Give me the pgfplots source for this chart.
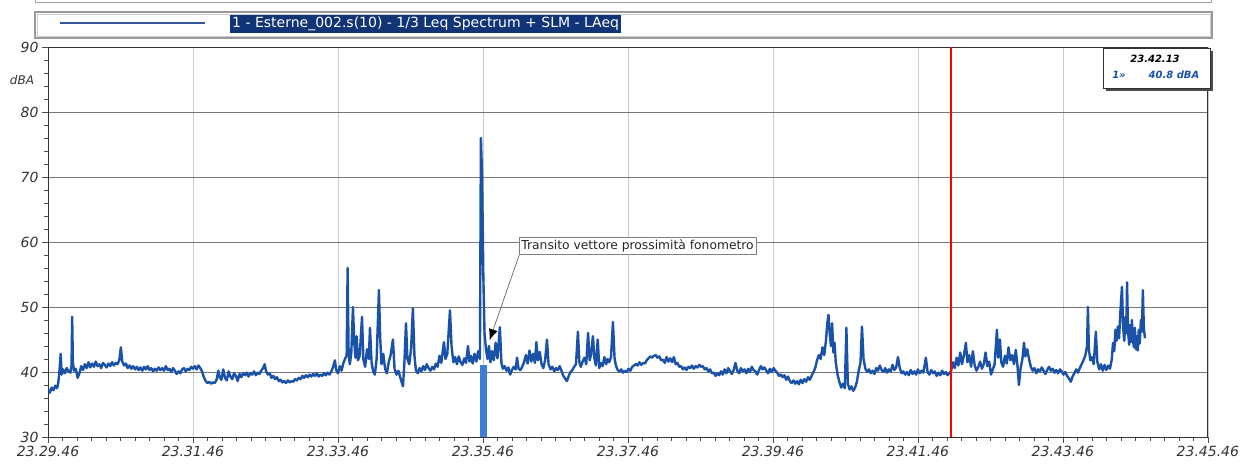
\documentclass[border=0pt]{standalone}
\usepackage{fontspec}
\setmainfont{DejaVu Sans}
\usepackage{pgfplots}
\pgfplotsset{compat=1.18}
\usetikzlibrary{arrows.meta}
\definecolor{trace}{RGB}{26,82,168}
\definecolor{barblue}{RGB}{65,125,215}
\definecolor{legbg}{RGB}{16,52,118}
\definecolor{legline}{RGB}{50,85,155}
\definecolor{gridh}{RGB}{120,120,120}
\definecolor{gridv}{RGB}{200,200,200}
\begin{document}
\begin{tikzpicture}[x=1pt,y=1pt]
\useasboundingbox (0,0) rectangle (1244,470);
% top cut box and legend box
\draw[gray!70, line width=1pt] (35,470)--(35,467)--(1211,467)--(1211,470);
\draw[gray!80, line width=1.4pt] (35,432) rectangle (1212,458);
\draw[gray!40, line width=0.6pt] (37,434) rectangle (1210,456);
\draw[legline, line width=1.5pt] (60,447)--(205,447);
\node[fill=legbg, text=white, inner sep=2pt, anchor=west, font=\fontsize{14}{14}\selectfont] at (230,446) {1 - Esterne\_002.s(10) - 1/3 Leq Spectrum + SLM - LAeq};
\begin{axis}[
  at={(48pt,33pt)}, anchor=south west,
  scale only axis, width=1160pt, height=390pt,
  xmin=0, xmax=960, ymin=30, ymax=90,
  xtick={0,120,240,360,480,600,720,840,960},
  xticklabels={23.29.46,23.31.46,23.33.46,23.35.46,23.37.46,23.39.46,23.41.46,23.43.46,23.45.46},
  ytick={30,40,50,60,70,80,90},
  minor x tick num=9, minor y tick num=4,
  tick align=outside, tick pos=left,
  major tick length=6pt, minor tick length=4pt,
  xmajorgrids, ymajorgrids,
  x grid style={gridv, line width=0.6pt},
  y grid style={gridh, line width=0.8pt},
  axis line style={black!80, line width=0.8pt},
  every tick/.style={black!70, line width=0.6pt},
  /pgf/number format/assume math mode=true,
  ticklabel style={font=\fontsize{14}{14}\selectfont\itshape, text=black!80},
  clip=true,
]
\addplot[fill=barblue, draw=none] coordinates {(357.5,41) (363.3,41)} \closedcycle;
\addplot[trace, line width=2.4pt, line join=round] coordinates {
(0,37.3) (1.5,36.8) (3,37.6) (4.5,37.2) (6,37.9) (7.5,37.5) (8.5,38.3) (9.5,40.2) (10.5,42.8) (11.3,39.6)
(12.5,40.4) (14,39.8) (15.5,40.6) (17,40.1) (18.5,39.9) (19.5,41) (20,48.5) (20.6,41.5) (21.5,40.2) (23,40.5)
(24.5,39.1) (26,39.8) (27.5,40.9) (29,40.3) (30.5,41.2) (32,40.6) (33.5,41.5) (35,40.7) (36.5,41.3) (38,40.8)
(39.5,41.6) (41,40.9) (42.5,41.2) (44,40.6) (45.5,41.4) (47,41.1) (48.5,40.7) (50,41.3) (51.5,40.9) (53,41.5)
(54.5,41) (56,41.4) (57.5,41.2) (59,41.8) (60.3,43.8) (61.5,41.6) (63,41) (64.5,41.3) (66,40.6) (67.5,41)
(69,40.5) (70.5,40.9) (72,40.4) (73.5,40.8) (75,40.3) (76.5,40.7) (78,40.2) (79.5,40.8) (81,40.4) (82.5,40.9)
(84,40.3) (85.5,40.6) (87,40.1) (88.5,40.5) (90,40.2) (91.5,40.7) (93,40.3) (94.5,40.6) (96,40.2) (97.5,40.9)
(99,40.3) (100.5,40.5) (102,40) (103.5,40.6) (105,40.2) (106.5,39.7) (108,40.1) (109.5,39.8) (111,40.4) (112.5,40.6)
(114,40.1) (115.5,40.5) (117,40.3) (118.5,40.8) (120,40.5) (121.5,40.9) (123,40.4) (124.5,41) (126,40.6) (127.5,40.1)
(129,39.2) (130.5,38.6) (132,38.3) (133.5,38.5) (135,38.2) (136.5,38.4) (138,38.3) (139.5,38.8) (141,40.2) (142,39.2)
(143.5,38.8) (145,40.4) (146.5,39.1) (148,38.7) (149.5,40.1) (151,39.3) (152.5,38.9) (154,39.8) (155.5,39.4) (157,38.6)
(158.5,39.7) (160,39.2) (161.5,39.8) (163,39.5) (164.5,39.9) (166,39.3) (167.5,39.8) (169,39.6) (170.5,40.1) (172,39.5)
(173.5,39.9) (175,39.7) (176.5,40.2) (178,40.6) (179.3,41.2) (180.5,40.1) (182,39.6) (183.5,39.8) (185,39.1) (186.5,39.4)
(188,38.9) (189.5,39.2) (191,38.6) (192.5,38.8) (194,38.4) (195.5,38.6) (197,38.3) (198.5,38.7) (200,38.4) (201.5,38.6)
(203,38.5) (204.5,38.9) (206,38.7) (207.5,39.1) (209,38.9) (210.5,39.4) (212,39.1) (213.5,39.5) (215,39.2) (216.5,39.6)
(218,39.3) (219.5,39.7) (221,39.4) (222.5,39.8) (224,39.3) (225.5,39.6) (227,39.4) (228.5,39.8) (230,39.5) (231.5,39.9)
(233,39.6) (234.5,40.1) (236,40.8) (237.5,41.8) (238.5,40.3) (240,39.8) (241.5,40.9) (243,40.2) (244.5,41.4) (246,42.1)
(247.2,42.5) (248,56) (248.8,43) (249.8,41.2) (251,42.8) (252.4,50) (253.5,44.5) (254.5,42.2) (255.5,45.5) (256.5,41.8)
(258,42.5) (259.9,48.5) (261,42) (262.5,40.8) (264,43.5) (265.5,42) (266.5,46.8) (267.8,41.5) (269,40.2) (270.5,39.6)
(272,42) (273.9,52.6) (275,45) (276,41.2) (277.5,42.8) (279,40.5) (280.5,39.8) (282,41.5) (283.5,42.5) (285.5,45)
(286.8,40.5) (288.5,39.6) (290,40.2) (291.5,39.2) (293.8,37.8) (295,41.5) (296.3,47.5) (297.5,42) (299,41.2) (300.5,43.5)
(302,49.8) (303.3,42.5) (304.5,40.3) (306,39.8) (307.5,40.6) (309,40.1) (310.5,40.9) (312,40.3) (313.5,41.2) (315,40.6)
(316.5,40.2) (318,40.8) (319.5,40.4) (321,41.3) (322.5,40.8) (324,42.5) (325.5,41.4) (327.7,44.6) (329,42) (330.5,42.8)
(332.7,49.5) (334,44) (335.5,41.5) (337,42.3) (338.5,41.2) (340,42.4) (341.5,41.5) (343,41.1) (344.5,42.1) (346,41.4)
(347.6,44) (348.8,41.6) (350,42.5) (351.5,41.3) (353,42.8) (354.5,41.6) (356,43.2) (357.5,42) (358.3,76) (359.3,70)
(360.3,55) (361.3,46) (362.5,43.5) (363.8,42) (365,44) (366.2,41.5) (367.5,43.2) (369,41.8) (370.5,44.5) (372,42.1)
(374,46.9) (375.3,41.4) (376.5,40.5) (378,40.9) (379.5,40.2) (381,40.7) (382.5,39.6) (384,40.3) (385.5,40.8) (387,40.4)
(388.2,42.2) (389.5,40.5) (391,40.3) (392.5,40.8) (394,41.5) (395.5,42.6) (397,41.3) (398.5,43.3) (400,41.6) (401.5,42.8)
(403,41.4) (404.2,44.6) (405.5,41.8) (407,43.1) (408.5,41.2) (410,40.6) (411.5,41.9) (413,45) (414.3,41.2) (416,40.4)
(417.5,40.8) (419,40.1) (420.5,40.6) (422,40.3) (423.5,40.9) (425,40.2) (426.5,39.4) (428,39) (429.5,38.6) (431,39.4)
(432.5,40) (434,40.3) (435.5,40.8) (437,41.2) (438.6,46.2) (439.8,41.5) (441,40.8) (442.5,41.6) (444,42.2) (445.5,41.2)
(447,46) (448.3,41.8) (449.5,42.7) (451,45.5) (452.3,42) (453.5,41) (455,45) (456.3,40.6) (457.5,41.4) (459,40.9)
(460.5,42.3) (462,41.2) (463.2,42) (464.5,41.5) (466,42.3) (467.6,47.7) (468.9,42.2) (470,41) (471.5,40.3) (473,40.1)
(474.5,40.4) (476,39.9) (477.5,40.2) (479,40) (480.5,40.5) (482,40.2) (483.5,40.8) (485,41) (486.5,41.2) (488,41)
(489.5,41.5) (491,41.1) (492.5,41.4) (494,41.3) (495.5,41.8) (497,42.1) (498.5,42.4) (500,42.2) (501.5,42.5) (503,42.6)
(504.5,42.2) (506,42.4) (507.5,41.8) (509,41.9) (510.5,41.4) (512,42.3) (513.5,41.6) (515,42.1) (516.5,41.5) (518,42.3)
(519.5,41.2) (521,41.4) (522.5,40.8) (524,40.9) (525.5,40.4) (527,40.7) (528.5,40.3) (530,40.8) (531.5,40.6) (533,41)
(534.5,40.5) (536,40.9) (537.5,40.7) (539,41.1) (540.5,40.8) (542,40.9) (543.5,40.4) (545,40.6) (546.5,40.1) (548,40.4)
(549.5,39.8) (551,39.9) (552.5,39.4) (554,39.8) (555.5,39.5) (557,40.1) (558.5,39.6) (560,40.4) (561.5,39.8) (563,40.6)
(564.5,40.1) (566,39.7) (567.5,40.3) (569,41.4) (570.5,40.2) (572,39.8) (573.5,40.6) (575,40.1) (576.5,40.4) (578,39.8)
(579.5,40.5) (581,40) (582.5,40.8) (584,40.3) (585.5,40.1) (587,39.6) (588.5,40.3) (590,40.9) (591.5,40.4) (593,40.7)
(594.5,40.2) (596,39.8) (597.5,40.5) (599,40) (600.5,40.6) (602,40.2) (603.5,39.9) (605,39.4) (606.5,39.6) (608,39.2)
(609.5,39.5) (611,38.8) (612.5,39.3) (614,38.6) (615.5,38.3) (617,38.7) (618.5,38.2) (620,38.6) (621.5,38.1) (623,38.8)
(624.5,38.3) (626,38.9) (627.5,38.5) (629,39.2) (630.5,38.8) (632,39.4) (633.5,40) (635,40.6) (636.5,41.8) (638,42.6)
(639.5,42) (641,43.8) (642.5,42.6) (644,45) (645,47.5) (646,48.8) (647,46) (648,44) (649,47.5) (650,43)
(651,44.5) (652,41.5) (653.5,39.6) (655,38.5) (656.5,37.6) (658,38.2) (659.5,37.5) (660.8,46.8) (662,38.2) (663.5,37.3)
(665,37.8) (666.5,37.1) (668,37.6) (669.5,38.5) (671,40.2) (672.5,41.5) (673.7,47) (675,42) (676.5,40.5) (678,40)
(679.5,40.4) (681,39.8) (682.5,40.2) (684,39.7) (685.5,40.6) (687,40.2) (688.5,41) (690,40.3) (691.5,40) (693,40.6)
(694.5,39.9) (696,40.4) (697.5,40.1) (699,41.1) (700.5,40.3) (702,40.7) (703.5,42.3) (705,40.6) (706.5,39.8) (708,40.1)
(709.5,39.6) (711,40) (712.5,39.5) (714,40.3) (715.5,39.7) (717,40.1) (718.5,39.6) (720,40.4) (721.5,39.8) (723,40.2)
(724.5,39.9) (726.6,42.2) (728,40) (729.5,39.6) (731,40.3) (732.5,39.8) (734,40.1) (735.5,39.4) (737,39.9) (738.5,39.5)
(740,40.2) (741.5,39.7) (743,40) (744.5,39.5) (746,39.8) (747.5,40.2) (749,41.5) (750.5,40.6) (752,42.2) (753.5,41)
(755,43) (756.5,41.2) (758,42.5) (759.7,44.5) (761,41.5) (762.5,42.6) (764,40.8) (765.5,43.2) (767,41) (768.5,40.2)
(770,40.8) (771.5,41.6) (773,40.5) (774.5,41.2) (776,43) (777.5,40.9) (779,41.6) (780.5,39.6) (782,40.4) (783.5,41.2)
(785.4,46.5) (786.5,42.2) (787.9,45) (789,41.5) (790.5,40.8) (792,42.5) (793.5,41.3) (795,43.8) (796.5,41.8) (798,42.6)
(799.5,41.2) (801,43.4) (802.5,40.8) (803.6,38) (805,40.6) (806.5,42) (807.8,44.5) (809,42.4) (810.5,43.5) (812,42)
(813.5,40.8) (815,40.2) (816.5,40.6) (818,39.8) (819.5,40.4) (821,40.1) (822.5,40.7) (824,40.2) (825.5,39.7) (827,40.3)
(828.5,40.8) (830,40.2) (831.5,40.5) (833,39.9) (834.5,40.3) (836,39.8) (837.5,40.4) (839,40.1) (840.5,39.6) (842,40)
(843.5,39.4) (845,39) (846.6,38.5) (848,39.3) (849.5,39.8) (851,40.4) (852.5,39.9) (854,40.6) (855.5,41.2) (857,41.8)
(858.5,42.5) (860,44) (860.7,50) (861.5,43.5) (862.7,41.8) (864,42.3) (865.5,41.2) (867.3,46.2) (868.5,41.6) (870,40.4)
(871.5,41.2) (873,40.2) (874.5,41.1) (876,40.3) (877.5,41) (879,40.5) (880.5,42) (881.5,44.5) (882.5,43.2) (883.5,46.5)
(884.5,44.8) (885.5,47) (886.5,45.2) (887.5,49) (888.9,53.1) (889.8,47) (890.8,44.8) (891.8,48.5) (892.5,46) (893.1,53.8)
(893.9,46.5) (894.8,44.2) (895.5,47.2) (896.3,44.6) (897.1,48) (897.9,45) (898.8,43.8) (899.6,46.8) (900.4,43.5) (901.2,45.5)
(902,43.3) (902.8,46.5) (903.6,44.4) (904.6,48) (905.4,46.2) (906.2,52.6) (907,46.8) (907.9,45.2)
};
\addplot[red, line width=2pt] coordinates {(747,30) (747,90)};
\draw[gray!80!black, line width=0.7pt, -{Latex[length=11pt,width=9pt,black]}] (axis cs:390,58) -- (axis cs:365.5,44.9);
\node[draw=gray, fill=white, anchor=west, inner sep=2pt, text=black!85, font=\fontsize{12.3}{13}\selectfont] at (axis cs:390,59.4) {Transito vettore prossimità fonometro};
\end{axis}
\node[font=\fontsize{12}{12}\selectfont\itshape, text=black!80] at (22,390) {dBA};
% cursor box
\fill[black!70] (1106,379) rectangle (1213,419);
\draw[black!80, fill=white, line width=0.8pt] (1103,382) rectangle (1210,422);
\node[font=\fontsize{10}{10}\selectfont\bfseries\itshape] at (1155,411) {23.42.13};
\node[font=\fontsize{10}{10}\selectfont\bfseries\itshape, text=trace] at (1119,395) {1»};
\node[font=\fontsize{10}{10}\selectfont\bfseries\itshape, text=trace] at (1174,395) {40.8 dBA};
\end{tikzpicture}
\end{document}
